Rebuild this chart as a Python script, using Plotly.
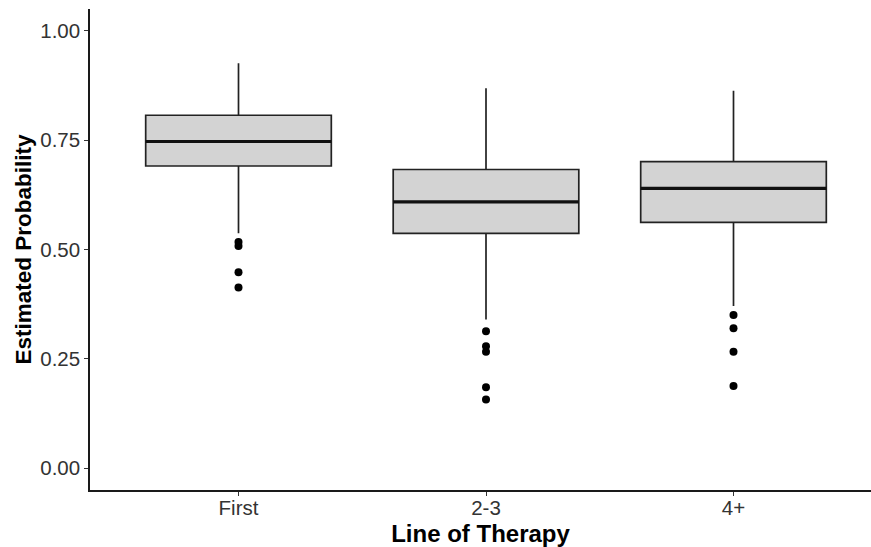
import plotly.graph_objects as go

categories = ["First", "2-3", "4+"]
positions = [0, 1, 2]
q1 = [0.691, 0.537, 0.562]
median = [0.747, 0.609, 0.640]
q3 = [0.807, 0.683, 0.701]
lower_whisker = [0.537, 0.340, 0.371]
upper_whisker = [0.926, 0.869, 0.863]
outliers = [
    [0.517, 0.508, 0.448, 0.413],
    [0.313, 0.279, 0.266, 0.185, 0.157],
    [0.350, 0.320, 0.266, 0.188],
]
y_ticks = [0.0, 0.25, 0.50, 0.75, 1.00]
y_ticklabels = ["0.00", "0.25", "0.50", "0.75", "1.00"]

BOX_W = 0.75
fig = go.Figure()
fig.add_trace(go.Box(
    x=positions, q1=q1, median=median, q3=q3,
    lowerfence=lower_whisker, upperfence=upper_whisker,
    width=BOX_W, whiskerwidth=0,
    fillcolor="#D3D3D3", line=dict(color="#222222", width=1.7),
    boxpoints=False, showlegend=False, hoverinfo="skip",
))
# thicker median lines (ggplot fatten)
for p, m in zip(positions, median):
    fig.add_trace(go.Scatter(
        x=[p - BOX_W / 2, p + BOX_W / 2], y=[m, m], mode="lines",
        line=dict(color="#111111", width=3.2), showlegend=False, hoverinfo="skip",
    ))
ox, oy = [], []
for p, vals in zip(positions, outliers):
    for v in vals:
        ox.append(p)
        oy.append(v)
fig.add_trace(go.Scatter(
    x=ox, y=oy, mode="markers",
    marker=dict(color="black", size=8), showlegend=False, hoverinfo="skip",
))

fig.update_layout(
    width=871, height=547,
    margin=dict(l=90, r=0, t=9, b=57),
    plot_bgcolor="white", paper_bgcolor="white",
    font=dict(family="Liberation Sans, Arial, sans-serif", color="#4D4D4D"),
)
fig.update_xaxes(
    range=[-0.6, -0.6 + (871 - 90) / 247.5],
    tickvals=positions, ticktext=categories,
    showline=True, linecolor="#1a1a1a", linewidth=1.5,
    ticks="outside", ticklen=4, tickcolor="#333333", tickwidth=1,
    ticklabelstandoff=-5,
    showgrid=False, zeroline=False,
    tickfont=dict(size=20.5, color="#333333"),
    title=dict(text="<b>Line of Therapy</b>", font=dict(size=24, color="black"), standoff=8),
)
fig.update_yaxes(
    range=[-0.05, 1.05],
    tickvals=y_ticks, ticktext=y_ticklabels,
    showline=True, linecolor="#1a1a1a", linewidth=1.5,
    ticks="outside", ticklen=4, tickcolor="#333333", tickwidth=1,
    showgrid=False, zeroline=False,
    tickfont=dict(size=20.5, color="#333333"),
    title=dict(text="<b>Estimated Probability</b>", font=dict(size=22.5, color="black"), standoff=2),
)

fig.write_html("out.html")
